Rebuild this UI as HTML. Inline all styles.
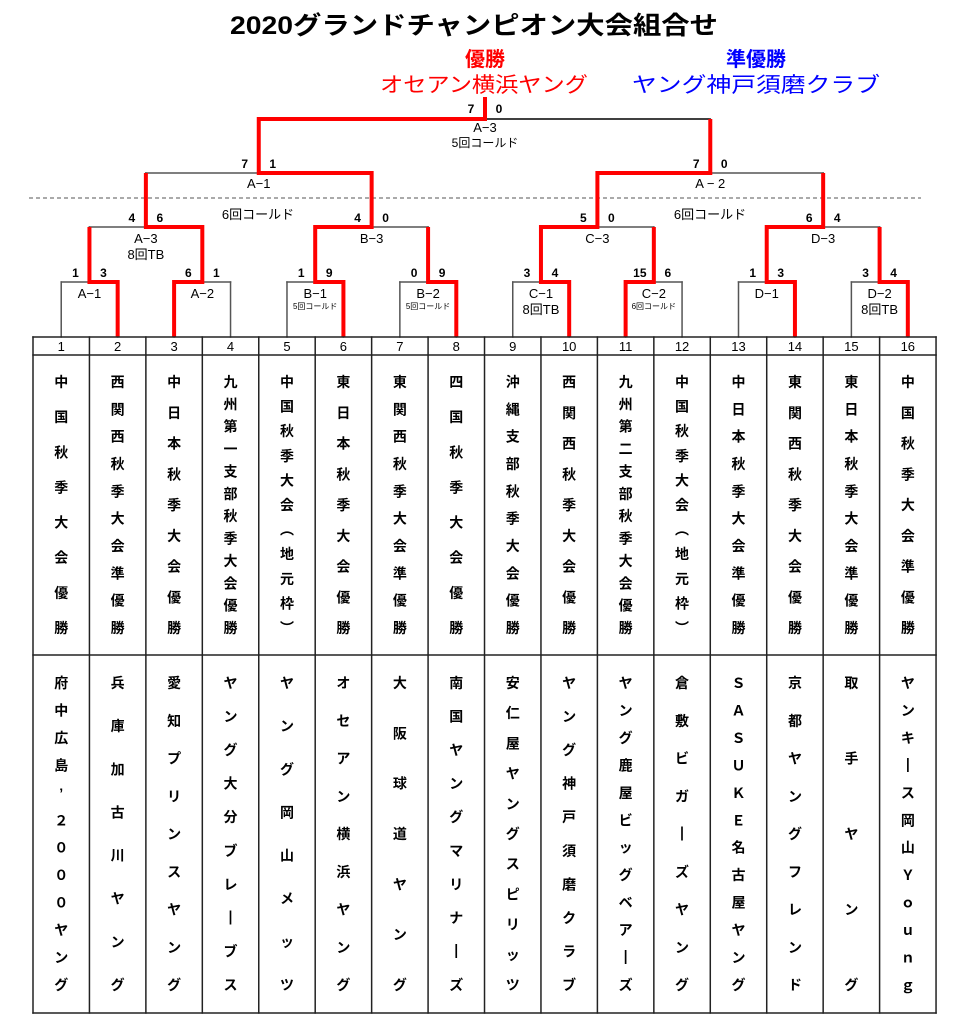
<!DOCTYPE html>
<html><head><meta charset="utf-8">
<style>
html,body{margin:0;padding:0;background:#fff;}
svg{display:block;}
text{font-family:"Liberation Sans","Noto Sans CJK JP",sans-serif;}
</style></head>
<body>
<svg id="s" width="962" height="1024" xmlns="http://www.w3.org/2000/svg">
<text x="474" y="34" text-anchor="middle" font-size="25" font-weight="bold" textLength="488" lengthAdjust="spacingAndGlyphs">2020グランドチャンピオン大会組合せ</text>
<text x="485" y="66" text-anchor="middle" font-size="20" fill="#ff0000" font-weight="bold">優勝</text>
<text x="484" y="92" text-anchor="middle" font-size="21" fill="#ff0000" textLength="208" lengthAdjust="spacingAndGlyphs">オセアン横浜ヤング</text>
<text x="756" y="66" text-anchor="middle" font-size="20" fill="#0000ff" font-weight="bold">準優勝</text>
<text x="756" y="92" text-anchor="middle" font-size="21" fill="#0000ff" textLength="248" lengthAdjust="spacingAndGlyphs">ヤング神戸須磨クラブ</text>
<line x1="29" y1="198" x2="921" y2="198" stroke="#555" stroke-width="1" stroke-dasharray="4,3"/>
<g id="g"></g>
</svg>
<script>
var g=document.getElementById('g');var NS='http://www.w3.org/2000/svg';
function el(t,a,txt){var e=document.createElementNS(NS,t);for(var k in a)e.setAttribute(k,a[k]);if(txt!==undefined)e.textContent=txt;g.appendChild(e);return e;}
function L(x1,y1,x2,y2,c,w){el('line',{x1:x1,y1:y1,x2:x2,y2:y2,stroke:c,'stroke-width':w,'stroke-linecap':'square'});}
function T(x,y,s,fs,b,c){el('text',{x:x,y:y,'font-size':fs,'font-weight':b?'bold':'normal','text-anchor':'middle',fill:c||'#000'},s);}
var X0=33,W=56.44;function cc(i){return X0+W*(i-0.5);}
var G='#555';
var r1=[];for(var i=0;i<8;i++){var a=cc(2*i+1),b=cc(2*i+2);r1.push((a+b)/2);
L(a,282,b,282,G,1.5);L(a,282,a,337,G,1.5);L(b,282,b,337,G,1.5);}
var r2=[];for(var i=0;i<4;i++){var a=r1[2*i],b=r1[2*i+1];r2.push((a+b)/2);L(a,227,b,227,G,1.5);L(a,227,a,282,G,1.5);L(b,227,b,282,G,1.5);}
var r3=[];for(var i=0;i<2;i++){var a=r2[2*i],b=r2[2*i+1];r3.push((a+b)/2);L(a,173,b,173,G,1.5);L(a,173,a,227,G,1.5);L(b,173,b,227,G,1.5);}
L(r3[0],119,r3[1],119,'#000',1.5);L(r3[0],119,r3[0],173,G,1.5);L(r3[1],119,r3[1],173,G,1.5);
var R='#ff0000',RW=4;
function P(pts){el('polyline',{points:pts.map(function(p){return p.join(',')}).join(' '),fill:'none',stroke:R,'stroke-width':RW,'stroke-linejoin':'miter'});}
P([[cc(2),337],[cc(2),282],[r1[0],282],[r1[0],227]]);
P([[cc(3),337],[cc(3),282],[r1[1],282],[r1[1],227],[r2[0],227],[r2[0],173]]);
P([[cc(6),337],[cc(6),282],[r1[2],282],[r1[2],227],[r2[1],227],[r2[1],173],[r3[0],173],[r3[0],119],[485,119],[485,97]]);
P([[cc(8),337],[cc(8),282],[r1[3],282],[r1[3],227]]);
P([[cc(10),337],[cc(10),282],[r1[4],282],[r1[4],227],[r2[2],227],[r2[2],173],[r3[1],173],[r3[1],119]]);
P([[cc(11),337],[cc(11),282],[r1[5],282],[r1[5],227]]);
P([[cc(14),337],[cc(14),282],[r1[6],282],[r1[6],227],[r2[3],227],[r2[3],173]]);
P([[cc(16),337],[cc(16),282],[r1[7],282],[r1[7],227]]);
function S(x,y,a,b){T(x-14,y,a,12,true);T(x+14,y,b,12,true);}
var s1=[['1','3'],['6','1'],['1','9'],['0','9'],['3','4'],['15','6'],['1','3'],['3','4']];
for(var i=0;i<8;i++)S(r1[i],277,s1[i][0],s1[i][1]);
var s2=[['4','6'],['4','0'],['5','0'],['6','4']];
for(var i=0;i<4;i++)S(r2[i],222,s2[i][0],s2[i][1]);
S(r3[0],168,'7','1');S(r3[1],168,'7','0');S(485,113,'7','0');
var l1=['A−1','A−2','B−1','B−2','C−1','C−2','D−1','D−2'];
for(var i=0;i<8;i++)T(r1[i],298,l1[i],13,false);
T(r1[2],309,'5回コールド',8,false);T(r1[3],309,'5回コールド',8,false);T(r1[5],309,'6回コールド',8,false);
T(r1[4],314,'8回TB',13,false);T(r1[7],314,'8回TB',13,false);
var l2=['A−3','B−3','C−3','D−3'];for(var i=0;i<4;i++)T(r2[i],243,l2[i],13,false);
T(r2[0],259,'8回TB',13,false);
T(r3[0],188,'A−1',13,false);T(r3[1],188,'A − 2',13,false);
T(258,219,'6回コールド',13,false);T(710,219,'6回コールド',13,false);
T(485,132,'A−3',13,false);T(485,147,'5回コールド',12,false);
var ys=[337,355,655,1013];
for(var j=0;j<4;j++)L(X0,ys[j],X0+16*W,ys[j],'#222',1.5);
for(var i=0;i<=16;i++)L(X0+W*i,337,X0+W*i,1013,'#222',1.5);
for(var i=1;i<=16;i++)T(cc(i),351,String(i),13,false);
var r2t=['中国秋季大会優勝','西関西秋季大会準優勝','中日本秋季大会優勝','九州第一支部秋季大会優勝','中国秋季大会︵地元枠︶','東日本秋季大会優勝','東関西秋季大会準優勝','四国秋季大会優勝','沖縄支部秋季大会優勝','西関西秋季大会優勝','九州第二支部秋季大会優勝','中国秋季大会︵地元枠︶','中日本秋季大会準優勝','東関西秋季大会優勝','東日本秋季大会準優勝','中国秋季大会準優勝'];
var r3t=['府中広島’２０００ヤング','兵庫加古川ヤング','愛知プリンスヤング','ヤング大分ブレ┃ブス','ヤング岡山メッツ','オセアン横浜ヤング','大阪球道ヤング','南国ヤングマリナ┃ズ','安仁屋ヤングスピリッツ','ヤング神戸須磨クラブ','ヤング鹿屋ビッグベア┃ズ','倉敷ビガ┃ズヤング','ＳＡＳＵＫＥ名古屋ヤング','京都ヤングフレンド','取手ヤング','ヤンキ┃ス岡山Ｙｏｕｎｇ'];
function V(i,s,y0,y1){var ch=Array.from(s);var n=ch.length;for(var k=0;k<n;k++){var y=n>1?y0+(y1-y0)*k/(n-1):y0;T(cc(i),y+5,ch[k],14,true);}}
for(var i=0;i<16;i++){V(i+1,r2t[i],382,628);V(i+1,r3t[i],683,985);}
</script>
</body></html>
